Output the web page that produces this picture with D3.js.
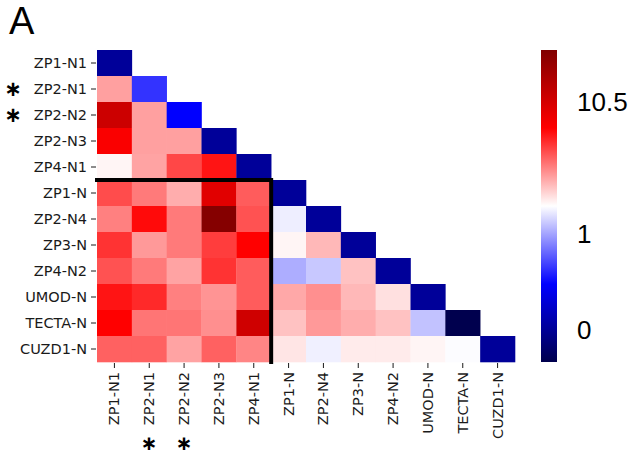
<!DOCTYPE html>
<html>
<head>
<meta charset="utf-8">
<script src="https://cdn.jsdelivr.net/npm/d3@7"></script>
<style>
  body { margin: 0; background: #fff; }
  .axis text { font-family: 'DejaVu Sans', sans-serif; font-size: 14.5px; fill: #1a1a1a; }
  .axis path { display: none; }
  .axis line { stroke: #1a1a1a; }
</style>
</head>
<body>
<div id="chart-area"></div>
<script>
var labels = ['ZP1-N1', 'ZP2-N1', 'ZP2-N2', 'ZP2-N3', 'ZP4-N1', 'ZP1-N', 'ZP2-N4',
  'ZP3-N', 'ZP4-N2', 'UMOD-N', 'TECTA-N', 'CUZD1-N'];

// values in colormap units (0 = darkest blue, 0.5 = white, 1 = darkest red), lower triangle
var rows = [
  [0.107],
  [0.593, 0.30],
  [0.85, 0.593, 0.25],
  [0.76, 0.593, 0.593, 0.107],
  [0.51, 0.59, 0.68, 0.73, 0.107],
  [0.675, 0.63, 0.58, 0.81, 0.66, 0.107],
  [0.625, 0.74, 0.63, 0.99, 0.67, 0.483, 0.107],
  [0.70, 0.60, 0.63, 0.69, 0.75, 0.51, 0.57, 0.107],
  [0.67, 0.63, 0.59, 0.70, 0.66, 0.42, 0.446, 0.56, 0.107],
  [0.73, 0.71, 0.625, 0.605, 0.66, 0.585, 0.61, 0.57, 0.53, 0.107],
  [0.75, 0.635, 0.635, 0.61, 0.845, 0.56, 0.60, 0.58, 0.56, 0.44, 0.003],
  [0.655, 0.655, 0.59, 0.655, 0.62, 0.525, 0.485, 0.52, 0.52, 0.51, 0.497, 0.107]
];

var starred = ['ZP2-N1', 'ZP2-N2'];

var cbarLabels = ['0', '1', '10.5'];
var cbarPos = [0.103, 0.413, 0.833];

// matplotlib "seismic"
var seismic = d3.scaleLinear()
  .domain([0, 0.25, 0.5, 0.75, 1])
  .range(['#00004c', '#0000ff', '#ffffff', '#ff0000', '#800000'])
  .clamp(true);

var svg = d3.select('#chart-area')
  .append('svg')
  .attr('width', 633)
  .attr('height', 456);

var x = d3.scaleBand().domain(labels).range([97, 515]);
var y = d3.scaleBand().domain(labels).range([50, 362]);

var cells = [];
rows.forEach(function(r, i) {
  r.forEach(function(v, j) {
    cells.push({ row: labels[i], col: labels[j], value: v });
  });
});

svg.selectAll('rect.cell')
  .data(cells)
  .enter()
  .append('rect')
    .attr('class', 'cell')
    .attr('x', function(d) { return x(d.col); })
    .attr('y', function(d) { return y(d.row); })
    .attr('width', x.bandwidth() + 0.3)
    .attr('height', y.bandwidth() + 0.3)
    .attr('fill', function(d) { return seismic(d.value); });

// Y Axis
svg.append('g')
  .attr('class', 'axis')
  .attr('transform', 'translate(' + (x.range()[0] - 1) + ', 0)')
  .call(d3.axisLeft(y).tickSize(5).tickPadding(4));

// X Axis
svg.append('g')
  .attr('class', 'axis')
  .attr('transform', 'translate(0, ' + (y.range()[1] + 1) + ')')
  .call(d3.axisBottom(x).tickSize(5).tickPadding(4))
  .selectAll('text')
    .attr('text-anchor', 'end')
    .attr('transform', 'rotate(-90)')
    .attr('x', -9)
    .attr('y', 0)
    .attr('dy', '0.35em');

// block separator
svg.append('path')
  .attr('d', 'M' + (x.range()[0] - 2) + ',' + y('ZP1-N') +
    'H' + x('ZP1-N') + 'V' + (y.range()[1] + 2))
  .attr('fill', 'none')
  .attr('stroke', '#000')
  .attr('stroke-width', 4);

// asterisks
svg.selectAll('text.star-y')
  .data(starred)
  .enter()
  .append('text')
    .attr('class', 'star-y')
    .attr('x', 13)
    .attr('y', function(d) { return y(d) + y.bandwidth() / 2 + 7; })
    .attr('text-anchor', 'middle')
    .attr('font-family', 'DejaVu Sans, sans-serif')
    .attr('font-size', '21px')
    .attr('font-weight', 'bold')
    .text('\u2217');

svg.selectAll('text.star-x')
  .data(starred)
  .enter()
  .append('text')
    .attr('class', 'star-x')
    .attr('x', function(d) { return x(d) + x.bandwidth() / 2; })
    .attr('y', 450)
    .attr('text-anchor', 'middle')
    .attr('font-family', 'DejaVu Sans, sans-serif')
    .attr('font-size', '20px')
    .attr('font-weight', 'bold')
    .text('\u2217');

// Colorbar
var cb = d3.scaleLinear().domain([0, 1]).range([y.range()[1], y.range()[0]]);
var grad = svg.append('defs').append('linearGradient')
  .attr('id', 'cbar')
  .attr('x1', 0).attr('y1', 1).attr('x2', 0).attr('y2', 0);
d3.range(0, 1.0001, 0.05).forEach(function(t) {
  grad.append('stop').attr('offset', t).attr('stop-color', seismic(t));
});
svg.append('rect')
  .attr('x', 541)
  .attr('y', cb(1))
  .attr('width', 16)
  .attr('height', cb(0) - cb(1))
  .attr('fill', 'url(#cbar)');

svg.selectAll('text.cbar-label')
  .data(cbarLabels)
  .enter()
  .append('text')
    .attr('class', 'cbar-label')
    .attr('x', 577)
    .attr('y', function(d, i) { return cb(cbarPos[i]); })
    .attr('dy', '0.36em')
    .attr('font-family', 'Liberation Sans, Arial, sans-serif')
    .attr('font-size', '26px')
    .attr('fill', '#000')
    .text(function(d) { return d; });

// Panel letter
svg.append('text')
  .attr('x', 9)
  .attr('y', 34)
  .attr('font-family', 'Liberation Sans, Arial, sans-serif')
  .attr('font-size', '38px')
  .attr('fill', '#000')
  .text('A');
</script>
</body>
</html>
